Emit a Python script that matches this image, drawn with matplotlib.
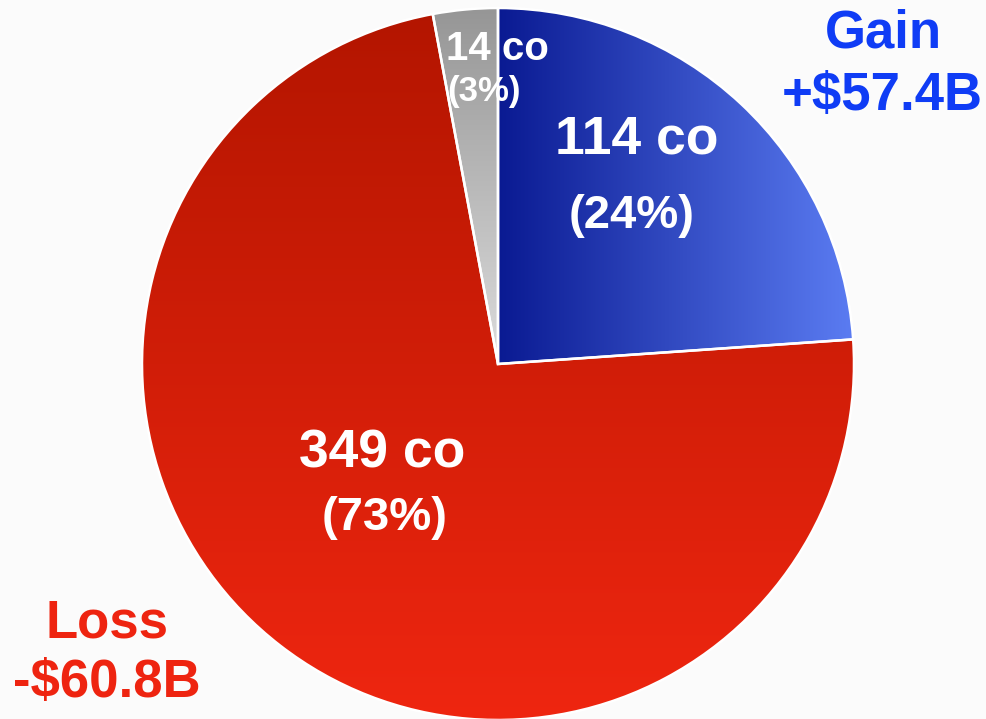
import numpy as np
import matplotlib.pyplot as plt
from matplotlib.colors import LinearSegmentedColormap

# company counts per outcome
labels = ["Gain", "Loss", "Flat"]
counts = [114, 349, 14]
shares = ["24%", "73%", "3%"]
totals = ["+$57.4B", "-$60.8B"]

W, H = 987, 719
cx, cy, r = 498, H - 364, 356

fig = plt.figure(figsize=(W / 100, H / 100), dpi=100)
fig.patch.set_facecolor("#fbfbfb")
ax = fig.add_axes([0, 0, 1, 1])

wedges, _ = ax.pie(counts, center=(cx, cy), radius=r, startangle=90,
                   counterclock=False, colors=["none"] * 3,
                   wedgeprops=dict(edgecolor="none"), frame=True)
ax.set_xlim(0, W)
ax.set_ylim(0, H)
ax.set_aspect("equal")
ax.axis("off")

# gradient fills, clipped to each wedge
grads = [
    (["#0a1a92", "#5b7cf2"], "h", (cx, cx + r, cy - r, cy + r)),
    (["#ef2610", "#b31500"], "v", (cx - r, cx + r, cy - r, cy + r)),
    (["#dcdcdc", "#969696"], "v", (cx - r, cx, cy, cy + r)),
]
for w, (cols, d, ext) in zip(wedges, grads):
    cmap = LinearSegmentedColormap.from_list("g", cols)
    g = np.linspace(0, 1, 256)
    img = g[None, :] if d == "h" else g[:, None]
    im = ax.imshow(img, cmap=cmap, extent=ext, origin="lower",
                   aspect="auto", zorder=1, interpolation="bicubic")
    im.set_clip_path(w)
    w.set_facecolor("none")
    w.set_edgecolor("white")
    w.set_linewidth(1.8)
    w.set_zorder(2)

font = dict(family=["Liberation Sans", "DejaVu Sans"], weight="bold",
            ha="center", va="baseline", zorder=3)


def put(x, y, s, size, color):
    ax.text(x, H - y, s, fontsize=size, color=color, **font)


put(637, 153, f"{counts[0]} co", 38.5, "white")
put(632, 228, f"({shares[0]})", 34, "white")
put(382, 467, f"{counts[1]} co", 38.5, "white")
put(385, 530, f"({shares[1]})", 34, "white")
put(497, 60, f"{counts[2]} co", 29, "white")
put(484, 101, f"({shares[2]})", 25, "white")

put(883, 47, labels[0], 38, "#0f3cf5")
put(882, 110, totals[0], 38, "#0f3cf5")
put(107, 637, labels[1], 38, "#ee2410")
put(107, 697, totals[1], 38, "#ee2410")

fig.savefig("out.png", dpi=100, facecolor=fig.get_facecolor())
